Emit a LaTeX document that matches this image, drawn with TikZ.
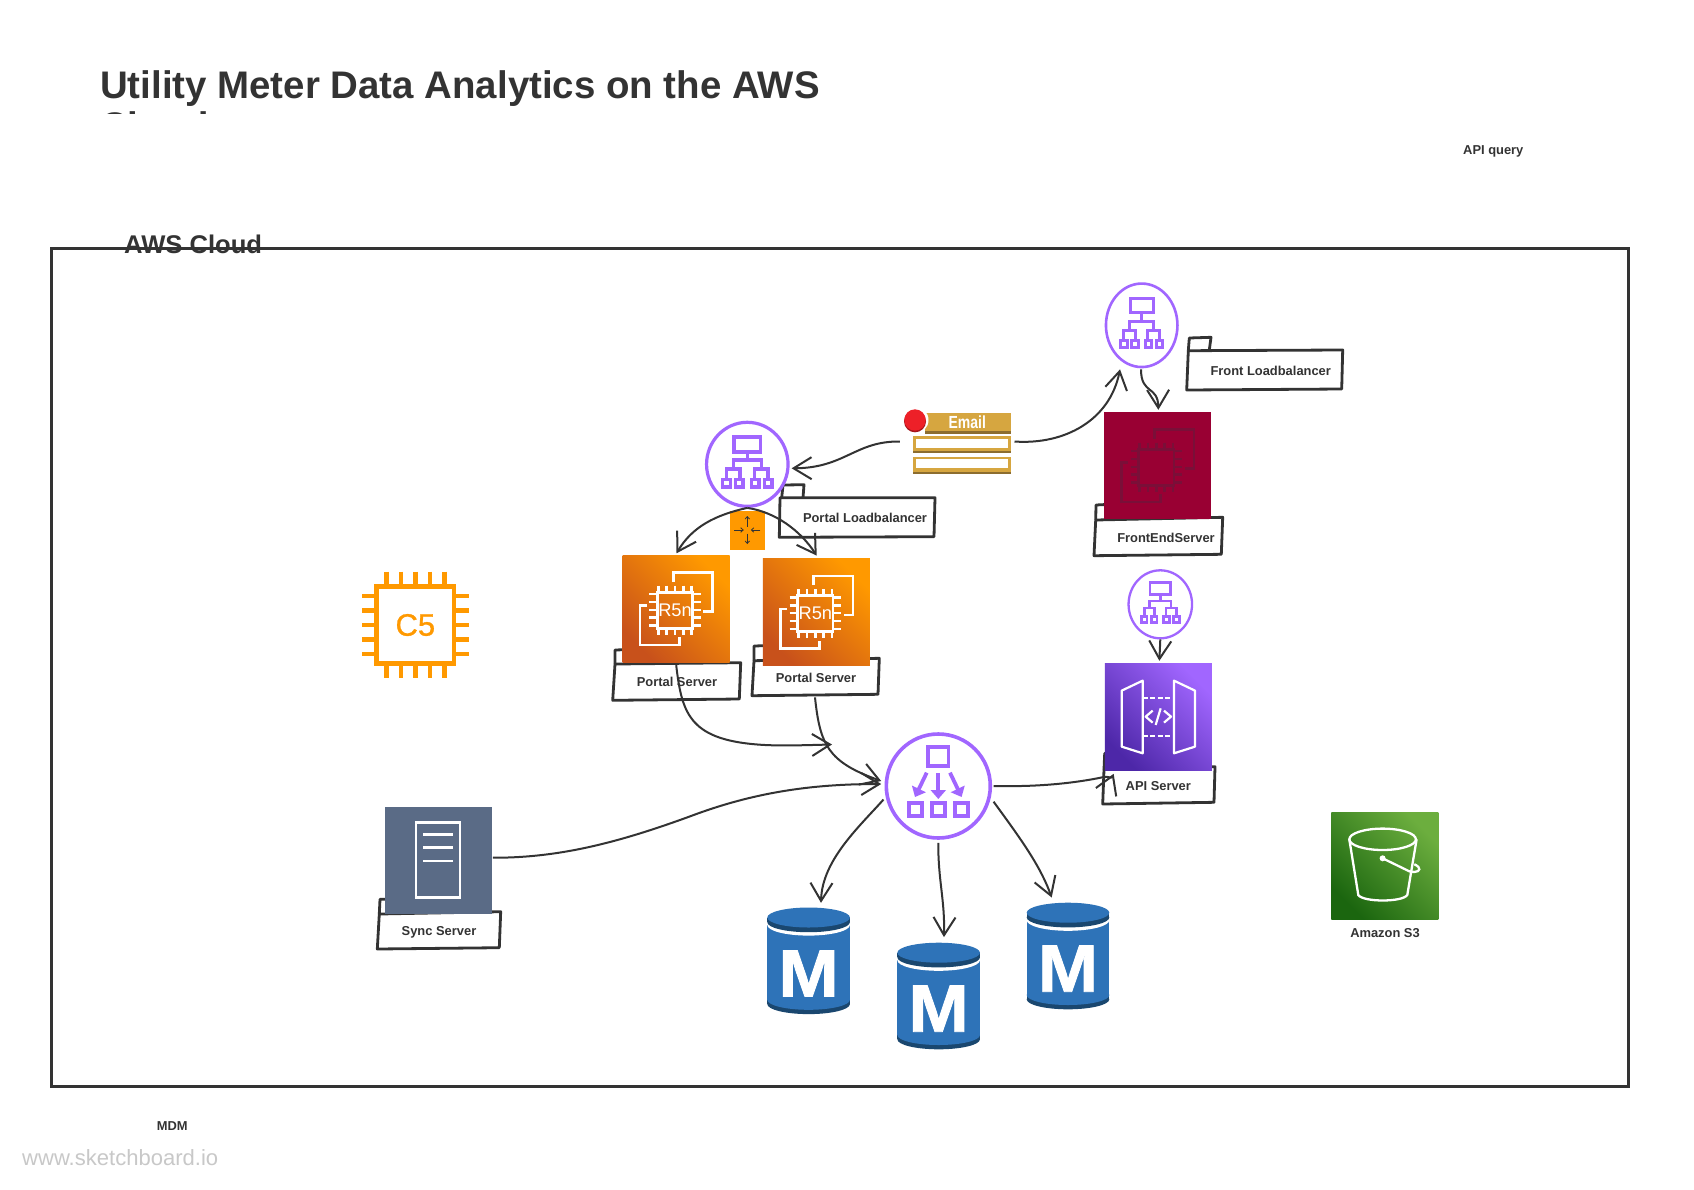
\documentclass[tikz,border=0pt]{standalone}
\usepackage{fontspec}
\setmainfont{Liberation Sans}
\newfontfamily\chipfont[FakeBold=0.9]{Liberation Sans}
\newfontfamily\emfont[BoldFont={Liberation Sans Bold},BoldFeatures={FakeBold=1.2}]{Liberation Sans}
\usetikzlibrary{arrows.meta,shapes.geometric}
\definecolor{ink}{HTML}{333333}
\definecolor{lbpurple}{HTML}{A166FF}
\definecolor{dbblue}{HTML}{2E73B8}
\definecolor{dbdark}{HTML}{1A476F}
\definecolor{awsorange}{HTML}{FF9900}
\definecolor{burnt}{HTML}{C8511B}
\definecolor{apideep}{HTML}{4D27A8}
\definecolor{s3deep}{HTML}{1B660F}
\definecolor{s3light}{HTML}{6CAE3E}
\definecolor{slategrey}{HTML}{5A6B86}
\definecolor{mailgold}{HTML}{D6A640}
\definecolor{maildark}{HTML}{8C6D2F}
\definecolor{dotred}{HTML}{ED2028}
\definecolor{dotdark}{HTML}{A5141B}
\definecolor{feRed}{HTML}{990033}
\definecolor{feDark}{HTML}{7A0F38}
\tikzset{
  pkgline/.style={draw=ink,line width=2.8pt,fill=white,line join=round},
  pkgtext/.style={text=ink,inner sep=0pt,font=\fontsize{12.9}{15}\selectfont\bfseries},
  conn/.style={draw=ink,line width=2pt,-{Straight Barb[length=18pt,width=22pt,line width=2pt]}},
  tile/.style={inner sep=0pt,minimum width=107pt,minimum height=107pt},
  grad/.style 2 args={shade,bottom color=#1,top color=#2,shading angle=-45},
  lbshape/.style={ellipse,inner sep=0pt,draw=lbpurple,fill=white},
  lbline/.style={draw=lbpurple,line join=miter},
}
% load balancer glyph: x, y, xscale, yscale, line width
\newcommand{\lbIcon}[5]{%
  \begin{scope}[shift={(#1,#2)},xscale=#3,yscale=#4,lbline,line width=#5pt]
    \draw (-13.3,-27.3) rectangle (13.3,-12.4);
    \draw (0,-12.4) -- (0,-4.3);
    \draw (-14,4.7) -- (-14,-4.3) -- (14,-4.3) -- (14,4.7);
    \draw (-20.7,15) -- (-20.7,4.7) -- (-7.3,4.7) -- (-7.3,15);
    \draw (20.7,15) -- (20.7,4.7) -- (7.3,4.7) -- (7.3,15);
    \foreach \a/\b in {-24.6/-17.1,-11.8/-4.3,4.3/11.8,17.1/24.6}{\draw (\a,15.4) rectangle (\b,22.6);}
  \end{scope}}
% instance glyph on a tile: origin x, y, colour, label code
\newcommand{\chipIcon}[4]{%
  \begin{scope}[shift={(#1,#2)},scale=.33333,draw=#3,line width=2.5pt]
    \draw (152,79) -- (152,52) -- (270,52) -- (270,169) -- (242,169);
    \draw (72,151) -- (52,151) -- (52,269) -- (170,269) -- (170,246);
    \draw (104,111) rectangle (210,219);
    \foreach \p in {0,25,50,75,100}{
      \draw (107+\p,91) -- (107+\p,111);
      \draw (107+\p,219) -- (107+\p,239);
      \draw (80,116+\p*.95) -- (104,116+\p*.95);
      \draw (210,116+\p*.95) -- (234,116+\p*.95);
    }
    #4
  \end{scope}}
% database: name, centre x, top y
\newcommand{\dbIcon}[3]{%
  \node[inner sep=0pt,minimum width=82.7pt,minimum height=106.6pt] (#1) at (#2,#3+53.3) {};
  \begin{scope}[shift={(#2,#3)}]
    \fill[dbdark] (-41.3,85) rectangle (41.3,96.6);
    \fill[dbdark] (0,96.6) ellipse (41.3 and 10);
    \fill[dbblue] (-41.3,17) rectangle (41.3,92.3);
    \fill[dbblue] (0,92.3) ellipse (41.3 and 10);
    \fill[white] (0,17.5) ellipse (41.3 and 10.6);
    \fill[dbdark] (-41.3,10) rectangle (41.3,14.7);
    \fill[dbdark] (0,14.7) ellipse (41.3 and 10);
    \fill[dbblue] (0,10) ellipse (41.3 and 10);
    \node[anchor=base,text=white,inner sep=0pt,xscale=1.08,font=\fontsize{67}{68}\selectfont\emfont\bfseries] (#1m) at (0,89) {M};
  \end{scope}}
\begin{document}
\begin{tikzpicture}[x=1pt,y=-1pt]
\useasboundingbox (0,0) rectangle (1694,1189);
\fill[white] (0,0) rectangle (1694,1189);

% title, cut off below the first line
\node[anchor=base west,text=ink,inner sep=0pt,font=\fontsize{38.43}{40}\selectfont\bfseries] (title) at (100,98) {Utility Meter Data Analytics on the AWS};
\begin{scope}
  \clip (0,100) rectangle (1694,113.5);
  \node[anchor=base west,text=ink,inner sep=0pt,font=\fontsize{38.43}{40}\selectfont\bfseries] (title2) at (100,139.5) {Cloud};
\end{scope}
\node[text=ink,inner sep=0pt,font=\fontsize{12.9}{15}\selectfont\bfseries] (apiq) at (1493.3,151.2) {API query};

% cloud frame
\node[draw=ink,line width=3pt,inner sep=0pt,minimum width=1576.5pt,minimum height=838pt] (frame) at (839.75,667) {};
\node[anchor=base west,text=ink,inner sep=0pt,font=\fontsize{25.6}{27}\selectfont\bfseries] (cloud) at (124,253) {AWS Cloud};

% package outlines
\draw[pkgline] (781.7,497.7) -- (783,485) -- (804,484.7) -- (803,497.7);
\draw[pkgline] (780,497.7) -- (935,497.7) -- (934,536.7) -- (779.3,537.3) -- cycle;
\node[pkgtext] (tLbP) at (865,517.7) {Portal Loadbalancer};
\draw[pkgline] (1188.3,350.7) -- (1189.3,338) -- (1211,337.3) -- (1209.3,350);
\draw[pkgline] (1188.3,350.7) -- (1342.7,350) -- (1341.7,389) -- (1186.7,390) -- cycle;
\node[pkgtext] (tLbF) at (1270.7,370.7) {Front Loadbalancer};
\draw[pkgline] (1095.7,520) -- (1096,505) -- (1110,504.3) -- (1110,520);
\draw[pkgline] (1095.7,520) -- (1222.7,517.3) -- (1221.3,554.3) -- (1094,555.7) -- cycle;
\node[pkgtext] (tFe) at (1166,537.7) {FrontEndServer};
\draw[pkgline] (615,664) -- (615,650) -- (636.7,649.3) -- (636,663.3);
\draw[pkgline] (615,664) -- (740.7,662.7) -- (739.3,699) -- (612.7,700.3) -- cycle;
\node[pkgtext] (tPa) at (677,681.7) {Portal Server};
\draw[pkgline] (754,660.7) -- (754,646) -- (776.7,645.3) -- (775,660);
\draw[pkgline] (754,660.7) -- (879.3,658.3) -- (878,694.3) -- (752,695.7) -- cycle;
\node[pkgtext] (tPb) at (816,677.7) {Portal Server};
\draw[pkgline] (1104,769.3) -- (1104.7,753.3) -- (1127,753) -- (1127,769);
\draw[pkgline] (1104,769.3) -- (1215,766.7) -- (1214,802.3) -- (1102.7,804) -- cycle;
\node[pkgtext] (tApi) at (1158.3,785.7) {API Server};
\draw[pkgline] (379.3,914) -- (380,899.3) -- (393,899) -- (393,914);
\draw[pkgline] (379.3,914) -- (500.7,911.7) -- (499.3,947.7) -- (377.3,949) -- cycle;
\node[pkgtext] (tSync) at (439,932.5) {Sync Server};

% load balancers
\node[lbshape,line width=3.2pt,minimum width=81.5pt,minimum height=84pt] (lb1) at (747.3,464.3) {};
\lbIcon{747.3}{464.3}{1}{1}{3.3}
\node[lbshape,line width=2.6pt,minimum width=71.5pt,minimum height=83.5pt] (lb2) at (1141.7,325.3) {};
\lbIcon{1141.7}{325.3}{.86}{1}{3}
\node[lbshape,line width=2.3pt,minimum width=63.5pt,minimum height=68pt] (lb3) at (1160.3,604.3) {};
\lbIcon{1160.3}{604.3}{.77}{.8}{2.6}

% orange move tile
\node[fill=awsorange,inner sep=0pt,minimum width=35pt,minimum height=39.3pt] (move) at (747.5,530.3) {};
\begin{scope}[shift={(747.3,530)},draw=ink,line width=.8pt,-{Straight Barb[length=2.5pt,width=4.5pt,line width=.8pt]}]
  \draw (0,-3.5) -- (0,-14);
  \draw (0,3.5) -- (0,14);
  \draw (-13,0) -- (-3.5,0);
  \draw (13,0) -- (3.5,0);
\end{scope}

% email
\node[inner sep=0pt,minimum width=106.7pt,minimum height=65pt] (email) at (957.35,441.5) {};
\fill[mailgold] (925,413) rectangle (1010.7,431);
\fill[maildark] (925,431) rectangle (1010.7,433.5);
\fill[white] (915,420) circle (13.5);
\fill[mailgold] (913,436) rectangle (1010.7,451);
\fill[maildark] (913,451) rectangle (1010.7,453.3);
\fill[white] (916,439) rectangle (1008.3,448.3);
\fill[mailgold] (913,456.7) rectangle (1010.7,472);
\fill[maildark] (913,472) rectangle (1010.7,474);
\fill[white] (916,459.3) rectangle (1008.3,468.3);
\fill[dotdark] (915,421.3) circle (11);
\fill[dotred] (915,420) circle (10.7);
\node[text=white,inner sep=0pt,xscale=.8,font=\fontsize{17.5}{18}\selectfont\bfseries] (emailt) at (967.3,422) {Email};

% tiles
\node[tile,fill=feRed] (fe) at (1157.35,465.8) {};
\chipIcon{1104}{412.3}{feDark}{}
\node[tile,grad={burnt}{awsorange}] (r5a) at (676.2,608.8) {};
\chipIcon{622.7}{555.3}{white}{\node[text=white,inner sep=0pt,font=\fontsize{18.3}{19}\selectfont] (r5at) at (157,164) {R5n};}
\node[tile,grad={burnt}{awsorange}] (r5b) at (816.35,612) {};
\chipIcon{763}{558.7}{white}{\node[text=white,inner sep=0pt,font=\fontsize{18.3}{19}\selectfont] (r5bt) at (157,164) {R5n};}
\node[tile,grad={apideep}{lbpurple}] (api) at (1158.35,716.8) {};
\begin{scope}[shift={(1105,663.3)},scale=.33333,draw=white,line width=2.2pt,line join=round]
  \draw (113,52) -- (113,270) -- (50,250) -- (50,82) -- cycle;
  \draw (207,52) -- (207,270) -- (270,250) -- (270,82) -- cycle;
  \draw[dash pattern=on 5pt off 2.6pt] (113,105) -- (207,105);
  \draw[dash pattern=on 5pt off 2.6pt] (113,218) -- (207,218);
  \draw (143,142) -- (122,160) -- (143,178);
  \draw (177,142) -- (198,160) -- (177,178);
  \draw (167,135) -- (152,185);
\end{scope}
\node[tile,fill=slategrey] (sync) at (438.2,860) {};
\draw[white,line width=2.5pt] (416,822.7) rectangle (460,897.3);
\foreach \yy in {834.3,847.7,861}{\draw[white,line width=2.5pt] (423.3,\yy) -- (452.7,\yy);}
\node[tile,grad={s3deep}{s3light}] (s3) at (1384.8,865.5) {};
\begin{scope}[shift={(1331.3,812.3)},draw=white,line width=2.3pt]
  \draw (51.3,27) ellipse (33.3 and 10.7);
  \draw (18,27) -- (27,82.7) .. controls (32,90) and (71,90) .. (76,82.7) -- (85.3,27);
  \fill[white] (51.3,46) circle (3);
  \draw (51.3,46) -- (78,59) .. controls (86,61) and (90,58) .. (87,54.5) .. controls (85.5,53) and (84,52.5) .. (83,52);
\end{scope}
\node[pkgtext] (ts3) at (1385,933.3) {Amazon S3};

% C5 chip
\node[draw=awsorange,line width=4.5pt,inner sep=0pt,minimum size=77.3pt,text=awsorange,font=\fontsize{31}{32}\selectfont\chipfont] (c5) at (415.35,625) {C5};
\foreach \p in {-29,-14.5,0,14.5,29}{
  \draw[awsorange,line width=4.5pt] (415.7+\p,571.7) -- (415.7+\p,586);
  \draw[awsorange,line width=4.5pt] (415.7+\p,664) -- (415.7+\p,678.3);
  \draw[awsorange,line width=4.5pt] (362.3,625+\p) -- (376.7,625+\p);
  \draw[awsorange,line width=4.5pt] (454,625+\p) -- (469,625+\p);
}

% distributor
\node[circle,draw=lbpurple,line width=3.6pt,fill=white,inner sep=0pt,minimum size=104pt] (big) at (938.3,786) {};
\begin{scope}[draw=lbpurple,line width=3.8pt,-{Triangle[length=9pt,width=15pt]}]
  \draw[-] (928.3,746.6) rectangle (948.4,765.7);
  \draw (938.3,773.3) -- (938.3,799);
  \draw (926.7,772.7) -- (915,797);
  \draw (950,772.7) -- (961.6,797);
  \draw[-] (909,803.3) rectangle (921.7,816);
  \draw[-] (931.7,803.3) rectangle (945,816);
  \draw[-] (955,803.3) rectangle (967.7,816);
\end{scope}

% databases
\dbIcon{dbA}{808.6}{907.5}
\dbIcon{dbB}{938.65}{942.7}
\dbIcon{dbC}{1068}{902.7}

% free labels
\node[text=ink,inner sep=0pt,font=\fontsize{12.9}{15}\selectfont\bfseries] (mdm) at (172.3,1126.3) {MDM};
\node[anchor=base west,text={rgb,255:red,200;green,200;blue,200},inner sep=0pt,font=\fontsize{22.04}{24}\selectfont] (wm) at (22,1165) {www.sketchboard.io};

% connectors
\coordinate (tipFree) at (832,744.5);
\draw[conn] ([shift={(-4,0)}]email.west) .. controls (855,441) and (845,468) .. ([shift={(2,4)}]lb1.east);
\draw[conn] ([shift={(3.6,0)}]email.east) .. controls (1065,445) and (1110,420) .. ([shift={(-21.7,1)}]lb2.south);
\draw[conn] ([shift={(-.7,1)}]lb2.south) .. controls (1141,395) and (1158,385) .. ([shift={(1,-2.3)}]fe.north);
\draw[conn] (lb1.south) .. controls (715,515) and (692,527) .. ([shift={(.3,-1.8)}]r5a.north);
\draw[conn] (lb1.south) .. controls (775,512) and (800,530) .. ([shift={(.35,-2.7)}]r5b.north);
\draw[conn] ([shift={(0,2.7)}]r5a.south) .. controls (682,715) and (690,741) .. (765,745) .. controls (785,746) and (810,745) .. (tipFree);
\draw[conn] ([shift={(-1.35,31.7)}]r5b.south) .. controls (820,745) and (828,762) .. ([shift={(-3.3,-5)}]big.west);
\draw[conn] ([shift={(1,-2.3)}]sync.east) .. controls (560,858) and (620,842) .. (691,816) .. controls (760,790) and (820,784) .. ([shift={(-3.3,-2)}]big.west);
\draw[conn] ([shift={(1.5,0)}]big.east) .. controls (1040,787) and (1075,783) .. (1104,777) .. controls (1108,776) and (1111.5,779) .. ([shift={(9,3.3)}]api.south west);
\draw[conn] ([shift={(0,3)}]big.south) .. controls (938,880) and (945,900) .. ([shift={(5.3,-5.4)}]dbB.north);
\draw[conn] ([shift={(1.5,15.7)}]big.east) .. controls (1020,838) and (1040,865) .. ([shift={(-16.3,-5)}]dbC.north);
\draw[conn] ([shift={(-1,13.5)}]big.west) .. controls (860,826) and (822,860) .. ([shift={(12.4,-4.5)}]dbA.north);
\draw[conn] (lb3.south) -- ([shift={(1,-2.3)}]api.north);
\end{tikzpicture}
\end{document}
